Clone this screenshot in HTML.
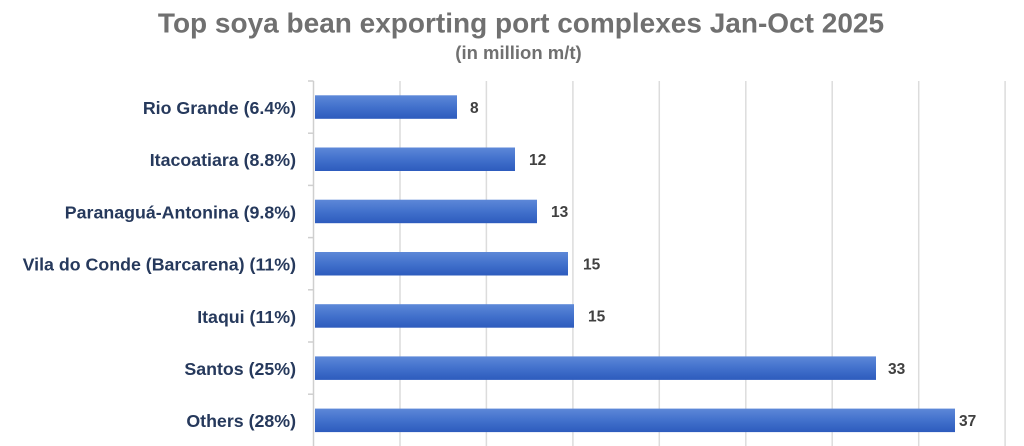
<!DOCTYPE html>
<html>
<head>
<meta charset="utf-8">
<style>
  html, body { margin: 0; padding: 0; background: #ffffff; }
  body { width: 1024px; height: 446px; overflow: hidden; }
  svg { display: block; }
  .cat { font-family: "Liberation Sans", Arial, sans-serif; font-weight: bold; font-size: 17.8px; fill: #26395c; }
  .val { font-family: "Liberation Sans", Arial, sans-serif; font-weight: bold; font-size: 15.5px; fill: #404040; }
  .title { font-family: "Liberation Sans", Arial, sans-serif; font-weight: bold; font-size: 28px; fill: #707070; }
  .sub { font-family: "Liberation Sans", Arial, sans-serif; font-weight: bold; font-size: 18.5px; fill: #707070; }
</style>
</head>
<body>
<svg width="1024" height="446" viewBox="0 0 1024 446" xmlns="http://www.w3.org/2000/svg">
  <defs>
    <linearGradient id="bg" x1="0" y1="0" x2="0" y2="1">
      <stop offset="0" stop-color="#5d88d8"/>
      <stop offset="0.5" stop-color="#4271cc"/>
      <stop offset="1" stop-color="#2d5bbd"/>
    </linearGradient>
  </defs>
  <rect width="1024" height="446" fill="#ffffff"/>

  <text class="title" x="521" y="32.5" text-anchor="middle">Top soya bean exporting port complexes Jan-Oct 2025</text>
  <text class="sub" x="518.5" y="59" text-anchor="middle">(in million m/t)</text>

  <!-- gridlines -->
  <g stroke="#dcdcdc" stroke-width="1.5">
    <line x1="400" y1="81" x2="400" y2="446"/>
    <line x1="486.4" y1="81" x2="486.4" y2="446"/>
    <line x1="572.9" y1="81" x2="572.9" y2="446"/>
    <line x1="659.3" y1="81" x2="659.3" y2="446"/>
    <line x1="745.8" y1="81" x2="745.8" y2="446"/>
    <line x1="832.2" y1="81" x2="832.2" y2="446"/>
    <line x1="918.7" y1="81" x2="918.7" y2="446"/>
    <line x1="1005.1" y1="81" x2="1005.1" y2="446"/>
  </g>
  <!-- axis -->
  <g stroke="#cfcfcf" stroke-width="1.5">
    <line x1="313.5" y1="81" x2="313.5" y2="446"/>
    <line x1="308" y1="81" x2="313.5" y2="81"/>
    <line x1="308" y1="133.2" x2="313.5" y2="133.2"/>
    <line x1="308" y1="185.4" x2="313.5" y2="185.4"/>
    <line x1="308" y1="237.6" x2="313.5" y2="237.6"/>
    <line x1="308" y1="289.8" x2="313.5" y2="289.8"/>
    <line x1="308" y1="342" x2="313.5" y2="342"/>
    <line x1="308" y1="394.2" x2="313.5" y2="394.2"/>
  </g>

  <!-- bars -->
  <g fill="url(#bg)">
    <rect x="315" y="95.3" width="142" height="23.5"/>
    <rect x="315" y="147.5" width="200" height="23.5"/>
    <rect x="315" y="199.7" width="222" height="23.5"/>
    <rect x="315" y="252" width="253" height="23.5"/>
    <rect x="315" y="304.2" width="259" height="23.5"/>
    <rect x="315" y="356.4" width="561" height="23.5"/>
    <rect x="315" y="408.6" width="640" height="23.5"/>
  </g>

  <!-- category labels -->
  <text class="cat" x="296" y="114" text-anchor="end">Rio Grande (6.4%)</text>
  <text class="cat" x="296" y="166.2" text-anchor="end">Itacoatiara (8.8%)</text>
  <text class="cat" x="296" y="218.4" text-anchor="end">Paranaguá-Antonina (9.8%)</text>
  <text class="cat" x="296" y="270.6" text-anchor="end">Vila do Conde (Barcarena) (11%)</text>
  <text class="cat" x="296" y="322.8" text-anchor="end">Itaqui (11%)</text>
  <text class="cat" x="296" y="375" text-anchor="end">Santos (25%)</text>
  <text class="cat" x="296" y="427.2" text-anchor="end">Others (28%)</text>

  <!-- value labels -->
  <text class="val" x="470" y="112.8">8</text>
  <text class="val" x="529" y="165">12</text>
  <text class="val" x="551" y="217.2">13</text>
  <text class="val" x="583" y="269.4">15</text>
  <text class="val" x="588" y="321.6">15</text>
  <text class="val" x="888" y="373.8">33</text>
  <text class="val" x="959" y="426">37</text>
</svg>
</body>
</html>
